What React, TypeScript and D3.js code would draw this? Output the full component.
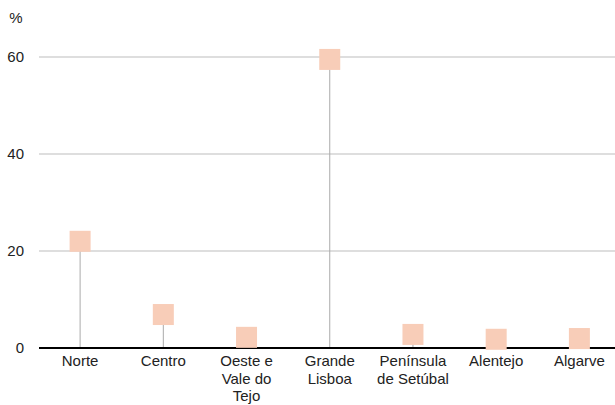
import React from "react";
import * as d3 from "d3";

const categories: string[][] = [
  ["Norte"],
  ["Centro"],
  ["Oeste e", "Vale do", "Tejo"],
  ["Grande", "Lisboa"],
  ["Península", "de Setúbal"],
  ["Alentejo"],
  ["Algarve"],
];
const values: number[] = [22.0, 6.9, 2.2, 59.5, 2.8, 1.8, 1.95];
const yTicks: number[] = [0, 20, 40, 60];
const unitLabel = "%";

const W = 615;
const H = 405;

export default function App() {
  const keys = categories.map((c) => c.join(" "));
  const x = d3.scaleBand<string>().domain(keys).range([38.5, 621]).padding(0);
  const y = d3.scaleLinear().domain([0, 60]).range([348, 57]);
  const sq = 21;
  const font = "Arial, 'Liberation Sans', Helvetica, sans-serif";
  return (
    <svg
      width={W}
      height={H}
      style={{ position: "absolute", left: 0, top: 0 }}
      fontFamily={font}
    >
      <rect x={0} y={0} width={W} height={H} fill="#fff" />
      {yTicks.filter((t) => t !== 0).map((t) => (
        <line key={t} x1={39} x2={W} y1={y(t)} y2={y(t)} stroke="#bdbdbd" strokeWidth={1} />
      ))}
      {yTicks.map((t) => (
        <text key={"l" + t} x={24} y={y(t)} dy="0.35em" textAnchor="end" fontSize={15} fill="#222">
          {t}
        </text>
      ))}
      <text x={16} y={18} dy="0.35em" textAnchor="middle" fontSize={15} fill="#222">
        {unitLabel}
      </text>
      {keys.map((k, i) => {
        const cx = (x(k) as number) + x.bandwidth() / 2;
        return (
          <line key={"s" + k} x1={cx} x2={cx} y1={y(0)} y2={y(values[i])} stroke="#aaaaaa" strokeWidth={1} />
        );
      })}
      <line x1={39} x2={W} y1={y(0)} y2={y(0)} stroke="#000" strokeWidth={2} />
      {keys.map((k, i) => {
        const cx = (x(k) as number) + x.bandwidth() / 2;
        return (
          <rect
            key={"r" + k}
            x={cx - sq / 2}
            y={y(values[i]) - sq / 2}
            width={sq}
            height={sq}
            fill="#f8cdb8"
          />
        );
      })}
      {categories.map((lines, i) => {
        const cx = (x(keys[i]) as number) + x.bandwidth() / 2;
        return (
          <text key={"c" + i} textAnchor="middle" fontSize={15} fill="#222">
            {lines.map((ln, j) => (
              <tspan key={j} x={cx} y={366 + j * 17.5}>
                {ln}
              </tspan>
            ))}
          </text>
        );
      })}
    </svg>
  );
}
